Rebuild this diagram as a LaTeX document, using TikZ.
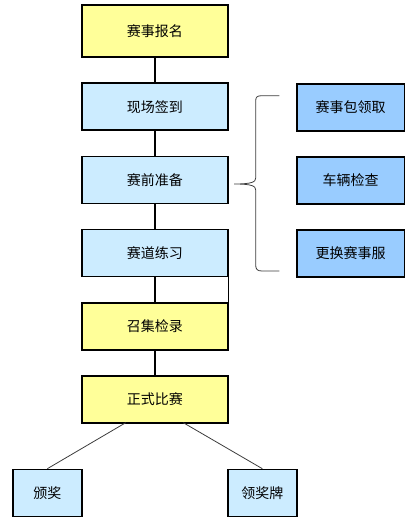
\documentclass[tikz,border=0pt]{standalone}
\usepackage{fontspec}
\newfontfamily\cjk{Noto Sans CJK SC}
\begin{document}
\begin{tikzpicture}[x=1pt,y=-1pt,
  box/.style={draw=black,line width=1.6pt,minimum width=145.7pt,minimum height=47pt,inner sep=0pt,font=\cjk\fontsize{14}{16}\selectfont},
  ybox/.style={box,fill=yellow!40!white,fill={rgb,255:red,255;green,255;blue,153}},
  bbox/.style={box,fill={rgb,255:red,204;green,236;blue,255}},
  rbox/.style={box,fill={rgb,255:red,153;green,204;blue,255},minimum width=107.6pt},
  sbox/.style={box,fill={rgb,255:red,204;green,236;blue,255},minimum width=69.3pt},
  conn/.style={draw=black,line width=1.6pt},
  thin/.style={draw={rgb,255:red,60;green,60;blue,60},line width=0.8pt}]
\useasboundingbox (0,0) rectangle (418,524);
\node[ybox,minimum height=52pt] (a) at (154.85,31.3) {赛事报名};
\node[bbox] (b) at (154.85,106.7) {现场签到};
\node[bbox] (c) at (154.85,180) {赛前准备};
\node[bbox] (d) at (154.85,253) {赛道练习};
\node[ybox] (e) at (154.85,326.3) {召集检录};
\node[ybox] (f) at (154.85,399.2) {正式比赛};
\node[sbox] (g) at (47.35,493) {颁奖};
\node[sbox] (h) at (262.35,493) {领奖牌};
\node[rbox] (r1) at (350.5,107.5) {赛事包领取};
\node[rbox] (r2) at (350.5,180.3) {车辆检查};
\node[rbox] (r3) at (350.5,253.3) {更换赛事服};
\draw[conn] (a) -- (b);
\draw[conn] (b) -- (c);
\draw[conn] (c) -- (d);
\draw[conn] (d) -- (e);
\draw[conn] (e) -- (f);
\draw[conn] (d.south east) -- (e.north east);
\coordinate (fl) at (125.7,422.7);
\coordinate (fr) at (183.3,422.7);
\draw[thin] (fl) -- (g.north);
\draw[thin] (fr) -- (h.north);
\coordinate (tip) at (234,184);
\coordinate (bt) at (279.3,95.7);
\coordinate (bb) at (279.3,271);
\draw[thin] (bt) -- (262,95.7) .. controls (257,95.7) and (255.7,97) .. (255.7,101) -- (255.7,178)
  .. controls (255.7,182) and (252,184) .. (tip)
  .. controls (252,184) and (255.7,186) .. (255.7,190) -- (255.7,265)
  .. controls (255.7,269) and (257,271) .. (262,271) -- (bb);
\end{tikzpicture}
\end{document}
